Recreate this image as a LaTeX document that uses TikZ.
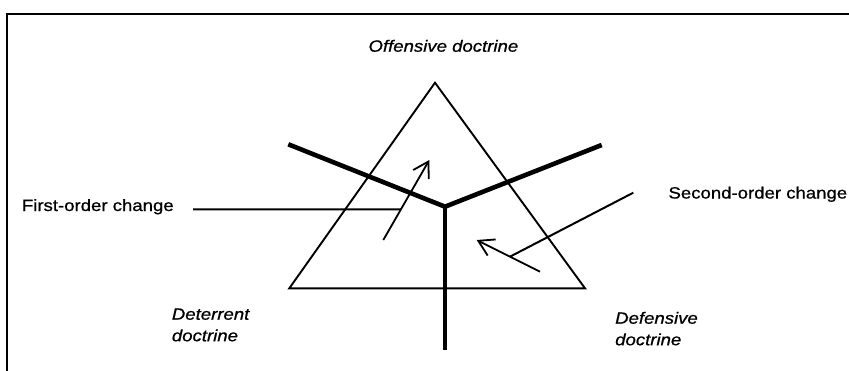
\documentclass[tikz,border=0pt]{standalone}
\usepackage{fontspec}
\setmainfont{Liberation Sans}[FakeStretch=1.14,FakeBold=0.8]
\usetikzlibrary{arrows.meta,calc}
\begin{document}
\begin{tikzpicture}[x=1pt,y=-1pt,
  frameline/.style={line width=2.6pt},
  edge/.style={line width=1.9pt},
  arm/.style={line width=4.6pt},
  leader/.style={line width=2pt},
  arr/.style={line width=1.8pt,-{Straight Barb[length=15pt,width=18pt]}},
  lab/.style={inner sep=0pt,font=\fontsize{16.3}{21.5}\selectfont},
  ilab/.style={lab,font=\fontsize{16.3}{21.5}\selectfont\itshape,align=left}]
\useasboundingbox (0,0) rectangle (849,370);
% frame (only top and left edges visible)
\draw[frameline] (7,380) -- (7,14) -- (860,14);
% triangle
\coordinate (A) at (435,82.7);
\coordinate (BL) at (289.3,288.3);
\coordinate (BR) at (585,288.3);
\draw[edge,line join=miter] (A) -- (BR) -- (BL) -- cycle;
% thick boundary lines
\coordinate (C) at (445,206.7);
\coordinate (LA) at (288.3,144.3);
\coordinate (RA) at (601.7,145);
\coordinate (S) at (445,350);
\draw[arm,line join=miter] (LA) -- (C) -- (RA);
\draw[arm] (C) -- (S);
% change arrows
\coordinate (a1s) at (383.3,240);
\coordinate (a1e) at (429.3,160);
\coordinate (a2s) at (540,271.7);
\coordinate (a2e) at (476.7,240);
\draw[arr] (a1s) -- (a1e);
\draw[arr] (a2s) -- (a2e);
% labels
\node[ilab,anchor=base west] (off) at (368.3,51.7) {Offensive doctrine};
\node[lab,anchor=base west] (first) at (21.7,211) {First-order change};
\node[lab,anchor=base west] (second) at (668.3,198.5) {Second-order change};
\node[ilab,anchor=north west] (det) at (171.7,308.3) {Deterrent\\doctrine};
\node[ilab,anchor=north west] (def) at (615,311.7) {Defensive\\doctrine};
% leaders
\coordinate (l1a) at (193,209.3);
\coordinate (l1b) at ($(a1s)!0.384!(a1e)$);
\draw[leader] (l1a) -- (l1b);
\coordinate (l2a) at (633.3,192.7);
\coordinate (l2b) at ($(a2s)!0.474!(a2e)$);
\draw[leader] (l2a) -- (l2b);
\end{tikzpicture}
\end{document}
